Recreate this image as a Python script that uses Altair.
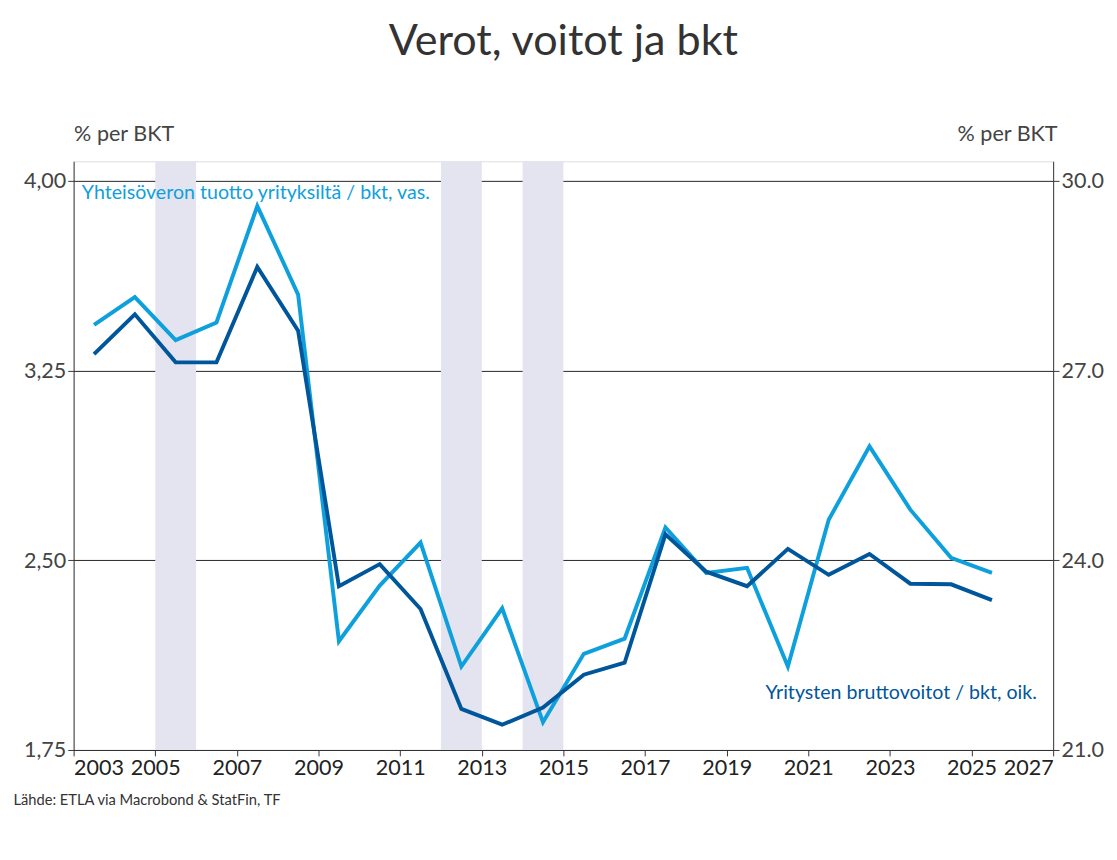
import altair as alt
import pandas as pd

years = [y + 0.5 for y in range(2003, 2026)]
yhteisovero = [3.43, 3.54, 3.37, 3.44, 3.90, 3.55, 2.18, 2.40, 2.57, 2.08, 2.31, 1.86,
               2.13, 2.19, 2.63, 2.45, 2.47, 2.08, 2.66, 2.95, 2.70, 2.51, 2.45]
bruttovoitot = [27.26, 27.89, 27.13, 27.13, 28.64, 27.63, 23.59, 23.94, 23.23, 21.65, 21.40, 21.67,
                22.19, 22.38, 24.41, 23.82, 23.59, 24.18, 23.77, 24.10, 23.63, 23.62, 23.37]
band_start = [2005, 2012, 2014]
band_end = [2006, 2013, 2015]

LIGHT = "#0ea0dc"
DARK = "#00569b"
FONT = "Lato"

df = pd.DataFrame({"vuosi": years, "vero": yhteisovero, "voitot": bruttovoitot})
bands = pd.DataFrame({"alku": band_start, "loppu": band_end})

x_scale = alt.Scale(domain=[2003, 2027], nice=False, zero=False)
x_axis = alt.Axis(values=list(range(2003, 2028, 2)), format="d", labelFontSize=22,
                  labelColor="#222", domainColor="#333", tickColor="#333", tickSize=6,
                  grid=False, title="Lähde: ETLA via Macrobond & StatFin, TF",
                  titleAnchor="start", titleX=-62, titleY=44, titleFontSize=15,
                  titleFontWeight="normal", titleColor="#333", titleFont=FONT)
left_scale = alt.Scale(domain=[1.75, 4.077], nice=False, zero=False)
right_scale = alt.Scale(domain=[21, 30.31], nice=False, zero=False)

band_layer = alt.Chart(bands).mark_rect(color="#e4e4f1").encode(
    x=alt.X("alku:Q", scale=x_scale, axis=x_axis),
    x2="loppu:Q",
    y=alt.value(0),
    y2=alt.value(601),
)

vero_line = alt.Chart(df).mark_line(color=LIGHT, strokeWidth=4).encode(
    x=alt.X("vuosi:Q", scale=x_scale, axis=x_axis),
    y=alt.Y("vero:Q", scale=left_scale,
            axis=alt.Axis(values=[1.75, 2.5, 3.25, 4.0], labelExpr="replace(format(datum.value, '.2f'), '.', ',')",
                          labelFontSize=22, labelColor="#444", grid=True, gridColor="#222",
                          domainColor="#333", tickColor="#333", tickSize=6,
                          title="% per BKT", titleAngle=0, titleX=0, titleY=-16,
                          titleAlign="left", titleFontSize=22, titleFontWeight="normal",
                          titleColor="#444", titleFont=FONT)),
)

vero_text = alt.Chart(pd.DataFrame({"x": [2003.2], "y": [3.95],
                                    "t": ["Yhteisöveron tuotto yrityksiltä / bkt, vas."]})).mark_text(
    color=LIGHT, fontSize=20, align="left", font=FONT).encode(
    x=alt.X("x:Q", scale=x_scale), y=alt.Y("y:Q", scale=left_scale), text="t:N")

voitot_line = alt.Chart(df).mark_line(color=DARK, strokeWidth=4).encode(
    x=alt.X("vuosi:Q", scale=x_scale),
    y=alt.Y("voitot:Q", scale=right_scale,
            axis=alt.Axis(values=[21, 24, 27, 30], orient="right", labelFontSize=22,
                          labelColor="#444", grid=False, domainColor="#333",
                          tickColor="#333", tickSize=6,
                          title="% per BKT", titleAngle=0, titleX=4, titleY=-16,
                          titleAlign="right", titleFontSize=22, titleFontWeight="normal",
                          titleColor="#444", titleFont=FONT)),
)

voitot_text = alt.Chart(pd.DataFrame({"x": [2026.6], "y": [21.9],
                                      "t": ["Yritysten bruttovoitot / bkt, oik."]})).mark_text(
    color=DARK, fontSize=20, align="right", font=FONT).encode(
    x=alt.X("x:Q", scale=x_scale), y=alt.Y("y:Q", scale=right_scale), text="t:N")

left = alt.layer(band_layer, vero_line, vero_text)
right = alt.layer(voitot_line, voitot_text)

chart = (
    alt.layer(left, right)
    .resolve_scale(y="independent")
    .properties(
        width=1000, height=601,
        title=alt.Title("Verot, voitot ja bkt", fontSize=44, font=FONT,
                        fontWeight="normal", color="#333", offset=60),
    )
    .configure_view(strokeWidth=0)
    .configure(font=FONT)
)

chart.save("out.html", embed_options={"renderer": "svg", "actions": False})
